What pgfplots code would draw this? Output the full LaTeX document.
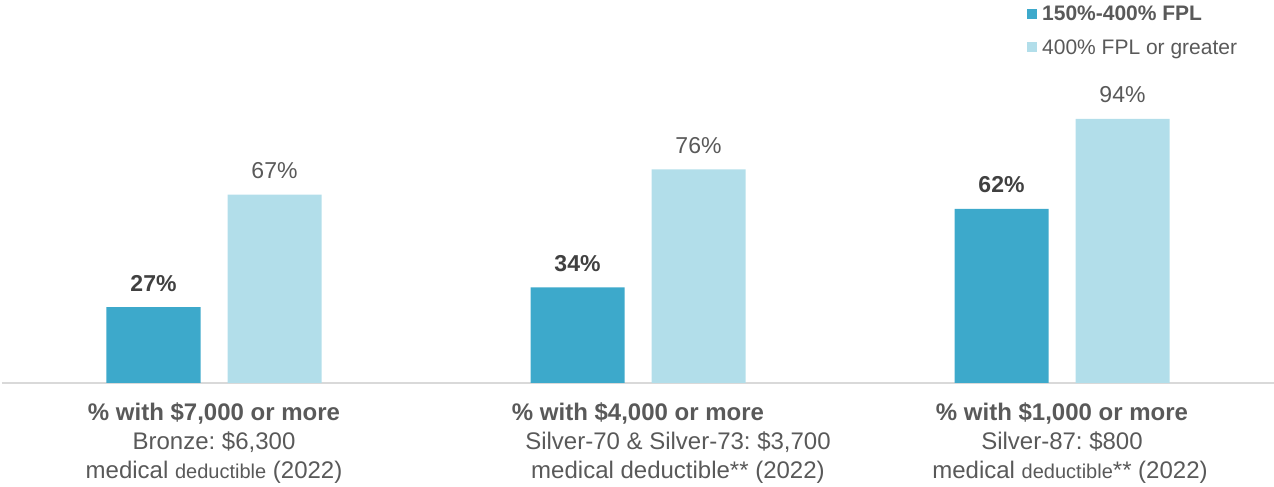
\documentclass[border=0pt]{standalone}
\usepackage{fontspec}
\setmainfont{Liberation Sans}
\usepackage{pgfplots}
\pgfplotsset{compat=1.18}
\frenchspacing
\definecolor{darkbar}{HTML}{3DA9CB}
\definecolor{lightbar}{HTML}{B2DEEA}
\definecolor{txtgray}{HTML}{595959}
\definecolor{valgray}{HTML}{404040}
\definecolor{axgray}{HTML}{D9D9D9}
\begin{document}
\begin{tikzpicture}
\begin{axis}[
  at={(0,0)}, anchor=origin,
  scale only axis,
  x=424pt, y=2.81pt,
  xmin=-0.5, xmax=2.5, ymin=0, ymax=136.3,
  ybar, bar width=94pt,
  axis y line=none,
  axis x line*=bottom,
  axis line style={draw=axgray, line width=2pt, -},
  xtick={0,1,2}, major tick length=0pt,
  /pgf/number format/assume math mode=true,
  xticklabels={
    {{\bfseries \% with \$7,000 or more}\\Bronze: \$6,300\\medical {\fontsize{20}{29}\selectfont deductible} (2022)},
    {{\bfseries \% with \$4,000 or more}\\\hspace*{80pt}Silver-70 \& Silver-73: \$3,700\\\hspace*{80pt}medical deductible** (2022)},
    {{\bfseries \% with \$1,000 or more}\\Silver-87: \$800\\\hspace*{16pt}medical {\fontsize{20}{29}\selectfont deductible}** (2022)}
  },
  xticklabel style={align=center, anchor=north, inner sep=0pt, yshift=-19pt,
    font=\fontsize{24}{29}\selectfont, text=txtgray},
  clip=false,
  legend style={at={(axis description cs:0.8058,1)}, anchor=north west, yshift=-6pt,
    draw=none, fill=none, inner sep=0pt, row sep=17pt,
    font=\fontsize{21}{25}\selectfont, text=txtgray,
    nodes={inner sep=0pt, anchor=west}},
  legend cell align=left,
  legend image code/.code={\fill[#1] (0pt,-5pt) rectangle (10pt,5pt);},
  nodes near coords,
  every node near coord/.append style={anchor=base, yshift=16pt, inner sep=0pt},
]
\addplot[fill=darkbar, draw=none, bar shift=-60.5pt,
  every node near coord/.append style={font=\fontsize{23}{27}\selectfont\bfseries, text=valgray},
  nodes near coords={\pgfmathprintnumber{\pgfplotspointmeta}\%}]
  coordinates {(0,27) (1,34) (2,62)};
\addplot[fill=lightbar, draw=none, bar shift=60.5pt,
  every node near coord/.append style={font=\fontsize{23}{27}\selectfont, text=txtgray},
  nodes near coords={\pgfmathprintnumber{\pgfplotspointmeta}\%}]
  coordinates {(0,67) (1,76) (2,94)};
\legend{\hspace{5pt}\textbf{150\%-400\% FPL}, \hspace{5pt}400\% FPL or greater}
\end{axis}
\pgfresetboundingbox
\path[use as bounding box] (-214pt,-104pt) rectangle (1060pt,383pt);
\end{tikzpicture}
\end{document}
